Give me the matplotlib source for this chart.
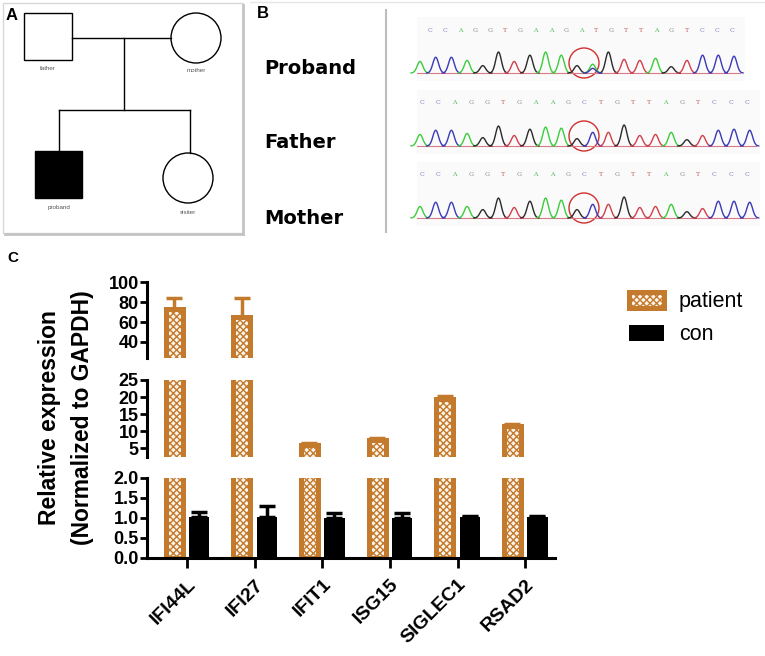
import numpy as np
import matplotlib
matplotlib.use("Agg")
import matplotlib.pyplot as plt
from matplotlib.patches import Rectangle, Circle

plt.rcParams['font.family'] = ['Liberation Sans', 'DejaVu Sans']
plt.rcParams['hatch.linewidth'] = 1.0

# ---- panel C data ----
genes = ['IFI44L', 'IFI27', 'IFIT1', 'ISG15', 'SIGLEC1', 'RSAD2']
patient_mean = [73, 65, 6.0, 7.5, 19.5, 11.5]
patient_err = [11, 19, 0.5, 0.6, 0.8, 0.7]
con_mean = [1.02, 1.02, 1.01, 1.01, 1.02, 1.02]
con_err = [0.14, 0.28, 0.12, 0.12, 0.04, 0.04]

# ---- panel B data (peak colour codes and relative heights) ----
proband_calls = "CCAGGTGAAGATGTTAGTCCC"
father_calls = "CCAGGTGAAGCTGTTAGTCCC"
mother_calls = "CCAGGTGAAGCTGTTAGTCCC"
proband_peaks = "ACCAGGTGAAGAGTTAGTCCC"
proband_heights = [0.55, 0.75, 0.75, 0.6, 0.35, 1.0, 0.55, 0.85, 1.0, 0.85, 0.35,
                   0.42, 1.0, 0.65, 0.6, 0.7, 0.3, 0.6, 0.85, 0.85, 0.8]
proband_minor_pos = [11]
proband_minor_base = "C"
proband_minor_h = [0.22]
father_peaks = "ACCAGGTGAAGCTGTTAGTCCC"
father_heights = [0.55, 0.75, 0.75, 0.6, 0.4, 0.95, 0.5, 0.8, 0.9, 0.85, 0.35,
                  0.65, 0.65, 1.0, 0.5, 0.55, 0.65, 0.3, 0.5, 0.75, 0.8, 0.75]
mother_peaks = "ACCAGGTGAAGCTGTTAGTCCC"
mother_heights = [0.55, 0.75, 0.75, 0.55, 0.4, 0.95, 0.5, 0.8, 0.95, 0.85, 0.4,
                  0.65, 0.65, 1.0, 0.5, 0.55, 0.65, 0.3, 0.45, 0.8, 0.8, 0.75]

base_col = {'A': '#3ccc3c', 'C': '#3a3ab8', 'G': '#2a2a2a', 'T': '#d0404c'}
letter_col = {'A': '#55bb55', 'C': '#7878c0', 'G': '#888888', 'T': '#c86060'}

W, H = 765, 656
fig = plt.figure(figsize=(W / 100, H / 100), dpi=100)


def px_axes(x0, y0, x1, y1):
    return fig.add_axes([x0 / W, 1 - y1 / H, (x1 - x0) / W, (y1 - y0) / H])


# overlay in pixel coordinates for panels A and B
ov = fig.add_axes([0, 0, 1, 1])
ov.set_xlim(0, W)
ov.set_ylim(H, 0)
ov.axis('off')

# ---- panel A: pedigree ----
ov.add_patch(Rectangle((3, 3), 240, 230, fill=False, ec='#d8d8d8', lw=1.0))
ov.plot([243, 243], [5, 234], color='#c4c4c4', lw=2)
ov.plot([5, 243], [234, 234], color='#c4c4c4', lw=2)
ov.text(6, 15, 'A', fontsize=12, fontweight='bold', va='center')
lk = dict(color='black', lw=1.0)
ov.plot([72, 171], [38, 38], **lk)
ov.plot([124, 124], [38, 110], **lk)
ov.plot([59, 190], [110, 110], **lk)
ov.plot([59, 59], [110, 151], **lk)
ov.plot([190, 190], [110, 153], **lk)
ov.add_patch(Rectangle((24, 13), 48, 47, fc='white', ec='black', lw=1.0))
ov.add_patch(Circle((196, 38), 25, fc='white', ec='black', lw=1.0))
ov.add_patch(Rectangle((35, 151), 47, 47, fc='black', ec='black', lw=1.0))
ov.add_patch(Circle((188, 178), 25, fc='white', ec='black', lw=1.0))
small = dict(fontsize=4.5, color='#555555', ha='center', va='center')
ov.text(48, 69, 'father', **small)
ov.text(196, 71, 'mother', **small)
ov.text(59, 207, 'proband', **small)
ov.text(188, 212, 'sisiter', **small)

# ---- panel B: chromatograms ----
ov.plot([250, 765], [2, 2], color='#e6e6e6', lw=1.0)
ov.text(257, 14, 'B', fontsize=12, fontweight='bold', va='center')
ov.plot([386, 386], [10, 232], color='#bdbdbd', lw=1.5)
for name, yy in [('Proband', 68), ('Father', 143), ('Mother', 218)]:
    ov.text(264, yy, name, fontsize=14, fontweight='bold', va='center',
            family=['DejaVu Sans'])

rows = [(proband_calls, proband_peaks, proband_heights, 17, 430, 732, 750),
        (father_calls, father_peaks, father_heights, 90, 422, 747, 765),
        (mother_calls, mother_peaks, mother_heights, 162, 422, 747, 765)]
for k, (calls, peaks, hts, top, lx0, lx1, xend) in enumerate(rows):
    ov.add_patch(Rectangle((417, top), xend - 417 - 5, 64, fc='#fafafa', ec='none'))
    lx = np.linspace(lx0, lx1, len(calls))
    for x, b in zip(lx, calls):
        ov.text(x, top + 13, b, fontsize=4.5, color=letter_col[b], ha='center',
                va='center', family=['DejaVu Serif'])
    base = top + 56
    xs = np.arange(len(peaks)) * 15.7 + 420
    ov.plot([417, xs[-1] + 6], [base, base], color='#d87a8a', lw=0.8)
    for i, (b, h) in enumerate(zip(peaks, hts)):
        t = np.linspace(xs[i] - 9, xs[i] + 9, 40)
        ov.plot(t, base - h * 21 * np.exp(-((t - xs[i]) / 4.0) ** 2),
                color=base_col[b], lw=1.0)
    if k == 0:
        for p, h in zip(proband_minor_pos, proband_minor_h):
            t = np.linspace(xs[p] - 9, xs[p] + 9, 40)
            ov.plot(t, base - h * 21 * np.exp(-((t - xs[p]) / 4.0) ** 2),
                    color=base_col[proband_minor_base], lw=1.0)
        ov.add_patch(Rectangle((575, top + 20), 16, 31, fc='#a8bccb', ec='none',
                               alpha=0.6, zorder=0))
    ov.add_patch(Circle((584, base - 10), 15, fill=False, ec='#d03030', lw=1.0))

# ---- panel C: broken-axis bar chart ----
ov.text(7, 258, 'C', fontsize=11, fontweight='bold', va='center')
orange = '#c47a2c'
x = np.arange(len(genes))
segs = [(282, 358, 24, 100, [40, 60, 80, 100], ['40', '60', '80', '100']),
        (380, 457, 2.4, 25, [5, 10, 15, 20, 25], ['5', '10', '15', '20', '25']),
        (478, 558, 0, 2.0, [0, 0.5, 1.0, 1.5, 2.0], ['0.0', '0.5', '1.0', '1.5', '2.0'])]
bars_p = bars_c = None
for j, (y0, y1, lo, hi, tks, tls) in enumerate(segs):
    ax = px_axes(147, y0, 555, y1)
    bars_p = ax.bar(x - 0.19, patient_mean, width=0.25, color='#fbf4ea',
                    edgecolor=orange, linewidth=3.6, hatch='xxxxx', label='patient')
    ax.errorbar(x - 0.19, patient_mean, yerr=[np.zeros(len(x)), patient_err],
                fmt='none', ecolor=orange, elinewidth=2.5, capsize=5.5, capthick=2.5)
    bars_c = ax.bar(x + 0.18, con_mean, width=0.3, color='black', label='con')
    ax.errorbar(x + 0.18, con_mean, yerr=[np.zeros(len(x)), con_err],
                fmt='none', ecolor='black', elinewidth=2.5, capsize=5.5, capthick=2.5)
    ax.set_xlim(-0.59, 5.44)
    ax.set_ylim(lo, hi)
    ax.set_yticks(tks)
    ax.set_yticklabels(tls, fontsize=13, fontweight='bold')
    ax.tick_params(axis='y', width=2, length=5, pad=1)
    for s in ['top', 'right']:
        ax.spines[s].set_visible(False)
    ax.spines['left'].set_linewidth(2.2)
    ax.patch.set_alpha(0)
    if j < 2:
        ax.spines['bottom'].set_visible(False)
        ax.set_xticks([])
    else:
        ax.spines['bottom'].set_linewidth(2.2)
        ax.set_xticks(x)
        ax.set_xticklabels(genes, rotation=45, ha='right', rotation_mode='anchor',
                           fontsize=14, fontweight='bold')
        ax.tick_params(axis='x', width=2, length=7, pad=6)

fig.text(66 / W, 1 - 418 / H, 'Relative expression\n(Normalized to GAPDH)',
         rotation=90, ha='center', va='center', fontsize=16.5, fontweight='bold',
         linespacing=1.55)

fig.legend([bars_p[0], bars_c[0]], ['patient', 'con'], loc='upper left',
           bbox_to_anchor=(610 / W, 1 - 272 / H), frameon=False, fontsize=15.5,
           handlelength=1.6, handleheight=0.8, handletextpad=0.7, labelspacing=0.55)

fig.savefig('out.png', dpi=100)
